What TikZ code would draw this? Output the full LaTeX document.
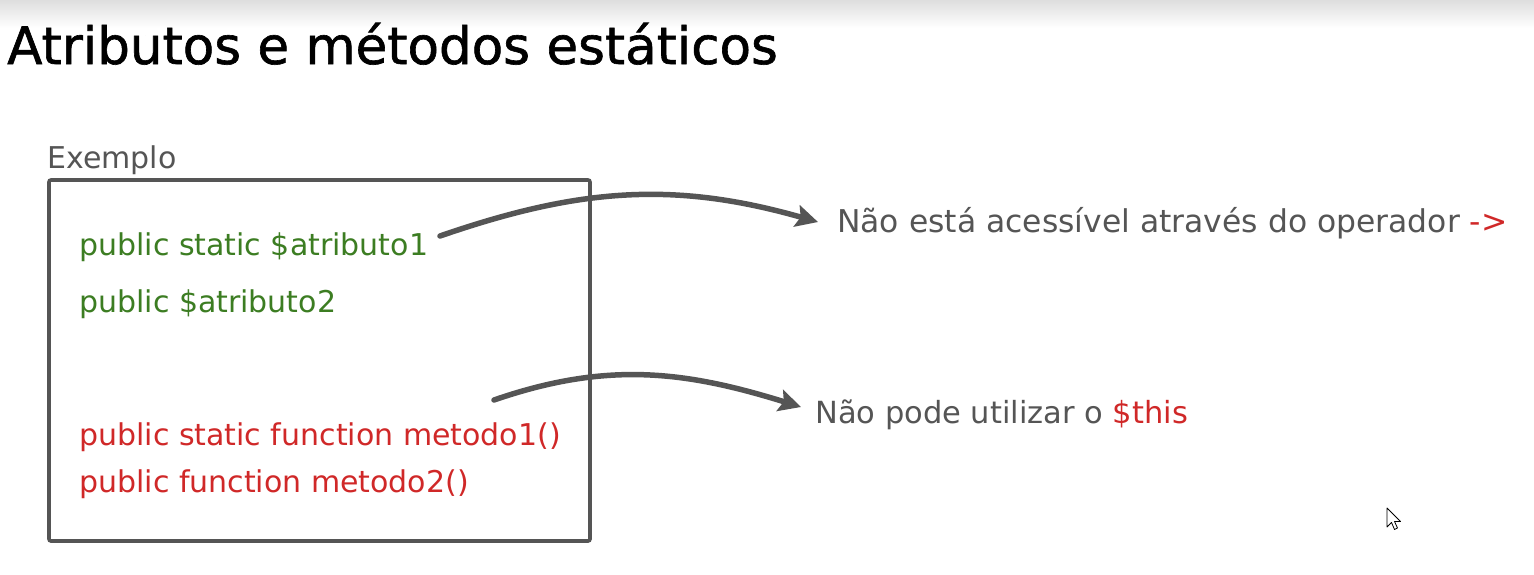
\documentclass[tikz,border=0pt]{standalone}
\usepackage{fontspec}
\setmainfont{DejaVu Sans}
\newfontfamily\titlefont{DejaVu Sans}[FakeBold=1.2]
\usetikzlibrary{arrows.meta}
\definecolor{txtgray}{HTML}{555555}
\definecolor{codegreen}{HTML}{3C7D22}
\definecolor{codered}{HTML}{D02828}
\definecolor{linegray}{HTML}{555555}
\tikzset{
  title/.style={anchor=base west, inner sep=0pt, font=\titlefont\fontsize{51.5}{60}\selectfont, text=black},
  body/.style={anchor=base west, inner sep=0pt, font=\fontsize{30}{36}\selectfont},
  greencode/.style={body, text=codegreen},
  redcode/.style={body, text=codered},
  note/.style={body, text=txtgray},
  frame/.style={draw=linegray, line width=3.6pt, rounded corners=2pt},
  curvearrow/.style={draw=linegray, line width=5.5pt, line cap=round, -{Stealth[length=22pt,width=22pt,inset=4pt]}}
}
\begin{document}
\begin{tikzpicture}[x=1pt,y=-1pt]
\useasboundingbox (0,0) rectangle (1534,574);
\fill[white] (0,0) rectangle (1534,574);
\shade[top color=black!13, bottom color=white] (0,0) rectangle (1534,28);
\node[title] (title) at (7,64) {Atributos e métodos estáticos};
\node[note] (ex) at (47,168) {Exemplo};
\draw[frame] (49,180) rectangle (590,541);
\node[greencode] (a1) at (79,255) {public static \$atributo1};
\node[greencode] (a2) at (79,312) {public \$atributo2};
\node[redcode] (m1) at (79,445) {public static function metodo1()};
\node[redcode] (m2) at (79,492) {public function metodo2()};
\node[note, font=\fontsize{31.4}{36}\selectfont] (n1) at (837,232) {Não está acessível através do operador \textcolor{codered}{->}};
\node[note, font=\fontsize{30.5}{36}\selectfont] (n2) at (815,423) {Não pode utilizar o \textcolor{codered}{\$this}};
\coordinate (s1) at (440,236);
\coordinate (e1) at (818,222);
\coordinate (s2) at (494,400);
\coordinate (e2) at (801,407);
\draw[curvearrow] (s1) .. controls (579,188) and (674,181) .. (e1);
\draw[curvearrow] (s2) .. controls (607,361) and (685,371) .. (e2);
% mouse cursor
\draw[black, line width=0.8pt, fill=white, line join=round]
  (1387,508) -- (1387,527) -- (1391.5,522.5) -- (1394.5,529.5) -- (1397.5,528) -- (1394.5,521.5) -- (1400.5,521.5) -- cycle;
\end{tikzpicture}
\end{document}
